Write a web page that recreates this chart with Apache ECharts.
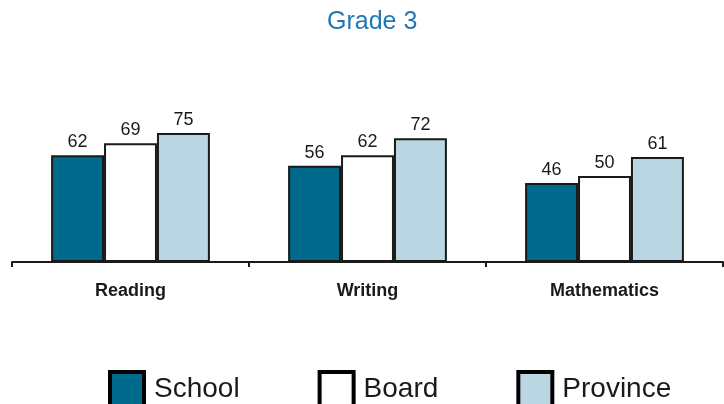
<!DOCTYPE html>
<html>
<head>
<meta charset="utf-8">
<script src="https://cdn.jsdelivr.net/npm/echarts@6/dist/echarts.min.js"></script>
<style>
  html, body { margin: 0; padding: 0; background: #fff; }
  #chart { width: 724px; height: 404px; }
</style>
</head>
<body>
<div id="chart"></div>
<script>
// 数据
var categories = ["Reading", "Writing", "Mathematics"];
var seriesNames = ["School", "Board", "Province"];
var schoolData = [62, 56, 46];
var boardData = [69, 62, 50];
var provinceData = [75, 72, 61];
var seriesColors = ["#006a8c", "#ffffff", "#b9d6e2"];

var chart = echarts.init(document.getElementById("chart"));

function makeSeries(name, data, color) {
  return {
    name: name,
    type: "bar",
    data: data,
    barGap: "0%",
    barCategoryGap: "33%",
    itemStyle: {
      color: color,
      borderColor: "#1a1a1a",
      borderWidth: 2
    },
    label: {
      show: true,
      position: "top",
      distance: 4,
      color: "#1a1a1a",
      fontSize: 18,
      fontFamily: "Liberation Sans, Arial, sans-serif"
    }
  };
}

var option = {
  animation: false,
  title: {
    text: "Grade 3",
    left: 322,
    top: 5,
    textStyle: {
      color: "#1f78b4",
      fontSize: 25,
      fontWeight: "normal",
      fontFamily: "Liberation Sans, Arial, sans-serif"
    }
  },
  legend: {
    data: seriesNames,
    left: 108,
    top: 370,
    padding: 0,
    icon: "rect",
    itemWidth: 34,
    itemHeight: 34,
    itemGap: 78,
    itemStyle: {
      borderColor: "#000",
      borderWidth: 4
    },
    textStyle: {
      color: "#1a1a1a",
      fontSize: 28,
      fontFamily: "Liberation Sans, Arial, sans-serif",
      padding: [0, 0, 0, 5]
    }
  },
  grid: {
    left: 12,
    right: 1,
    top: 90,
    bottom: 142,
    containLabel: false
  },
  xAxis: {
    type: "category",
    data: categories,
    axisLine: { lineStyle: { color: "#1a1a1a", width: 2 } },
    axisTick: { show: true, length: 5, lineStyle: { color: "#1a1a1a", width: 2 } },
    axisLabel: {
      margin: 20,
      color: "#1a1a1a",
      fontSize: 18,
      fontWeight: "bold",
      fontFamily: "Liberation Sans, Arial, sans-serif"
    }
  },
  yAxis: {
    type: "value",
    min: 0,
    max: 100,
    show: false,
    splitLine: { show: false }
  },
  series: [
    makeSeries(seriesNames[0], schoolData, seriesColors[0]),
    makeSeries(seriesNames[1], boardData, seriesColors[1]),
    makeSeries(seriesNames[2], provinceData, seriesColors[2])
  ]
};

chart.setOption(option);
</script>
</body>
</html>
